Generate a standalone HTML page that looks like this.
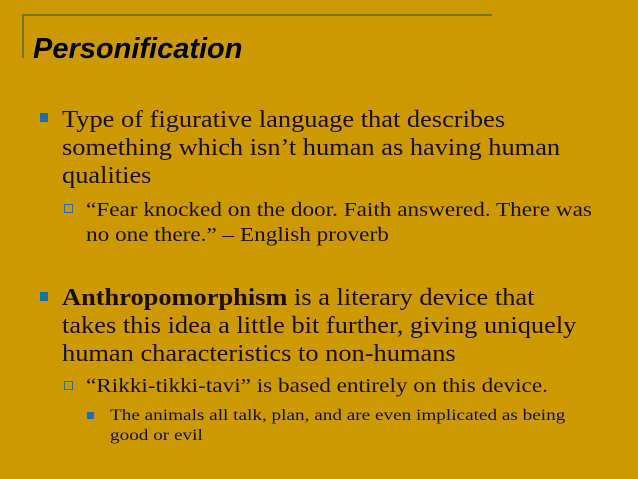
<!DOCTYPE html>
<html><head><meta charset="utf-8"><style>
html,body{margin:0;padding:0}
body{width:638px;height:479px;background:#cc9900;position:relative;overflow:hidden;font-family:"Liberation Serif",serif;color:#1a1000}
.l{position:absolute;white-space:nowrap;line-height:1;transform-origin:0 0}
.t1{font-size:24px;transform:scaleX(1.1)}
.t2{font-size:20px;transform:scaleX(1.16)}
.t3{font-size:16px;transform:scaleX(1.2)}
.b{position:absolute;background:#1f6fa0}
.hb{position:absolute;border:1.5px solid #1f6fa0;box-sizing:border-box;background:transparent}
</style></head><body>
<div style="position:absolute;left:22px;top:14px;width:470px;height:2px;background:#5f7a3a"></div>
<div style="position:absolute;left:22px;top:14px;width:2px;height:44px;background:#5f7a3a"></div>
<div class="l" style="left:33px;top:35px;font-size:29px;font-weight:bold;font-style:italic;font-family:'Liberation Sans',sans-serif;color:#000">Personification</div>

<div class="b" style="left:40px;top:113px;width:8px;height:9px"></div>
<div class="l t1" style="left:62px;top:108px">Type of figurative language that describes</div>
<div class="l t1" style="left:62px;top:136px">something which isn’t human as having human</div>
<div class="l t1" style="left:62px;top:164px">qualities</div>

<div class="hb" style="left:64px;top:204px;width:9px;height:9px"></div>
<div class="l t2" style="left:86px;top:200px">“Fear knocked on the door. Faith answered. There was</div>
<div class="l t2" style="left:86px;top:225px">no one there.” – English proverb</div>

<div class="b" style="left:40px;top:292px;width:8px;height:9px"></div>
<div class="l t1" style="left:62px;top:286px"><b>Anthropomorphism</b> is a literary device that</div>
<div class="l t1" style="left:62px;top:314px">takes this idea a little bit further, giving uniquely</div>
<div class="l t1" style="left:62px;top:342px">human characteristics to non-humans</div>

<div class="hb" style="left:64px;top:381px;width:9px;height:9px"></div>
<div class="l t2" style="left:86px;top:376px">“Rikki-tikki-tavi” is based entirely on this device.</div>

<div class="b" style="left:87px;top:412px;width:7px;height:7px"></div>
<div class="l t3" style="left:110px;top:408px">The animals all talk, plan, and are even implicated as being</div>
<div class="l t3" style="left:110px;top:428px">good or evil</div>
</body></html>
